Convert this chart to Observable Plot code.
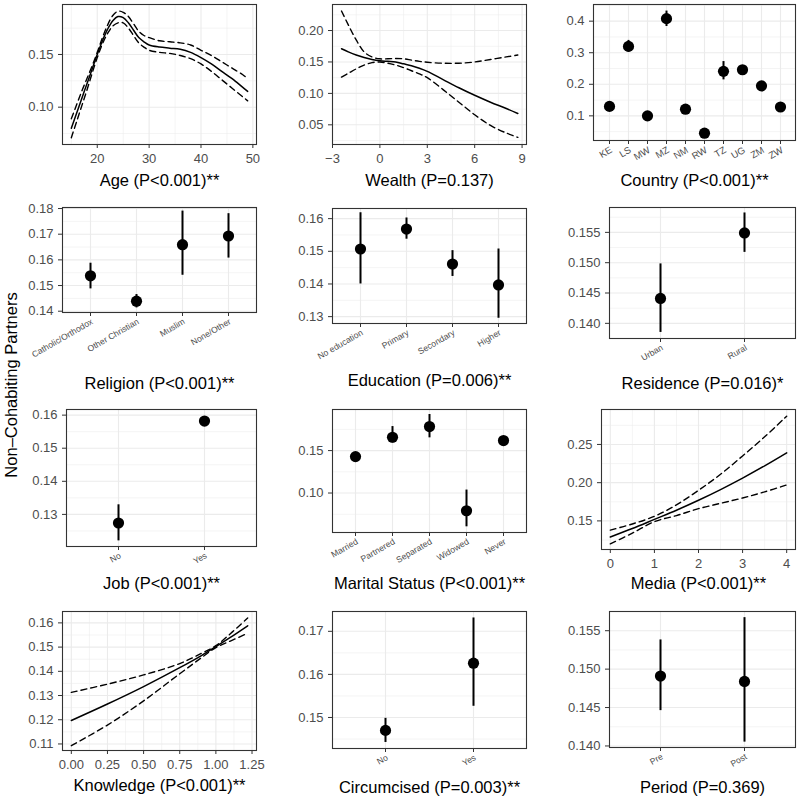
<!DOCTYPE html>
<html>
<head>
<meta charset="utf-8">
<script src="https://cdn.jsdelivr.net/npm/d3@7"></script>
<script src="https://cdn.jsdelivr.net/npm/@observablehq/plot@0.6"></script>
<style>
html, body { margin: 0; padding: 0; background: #fff; }
#root { position: relative; width: 800px; height: 799px; overflow: hidden;
  font-family: "Liberation Sans", Arial, Helvetica, sans-serif; }
#root svg { position: absolute; overflow: visible; background: transparent;
  font-family: "Liberation Sans", Arial, Helvetica, sans-serif; }
#root g[aria-label="y-axis tick label"], #root g[aria-label="x-axis tick label"] { fill: #4d4d4d; }
#root g[aria-label="y-axis tick"], #root g[aria-label="x-axis tick"] { stroke: #333333; }
#ylab { position: absolute; left: 11px; top: 385px; transform: translate(-50%, -50%) rotate(-90deg);
  white-space: nowrap; font-size: 16.5px; color: #000; }
</style>
</head>
<body>
<div id="root"><div id="ylab">Non–Cohabiting Partners</div></div>
<script>
// ---------------- DATA ----------------
// Continuous panels: fitted value and confidence bounds
const ageX  = [15,16,17,18,19,20,21,22,23,24,25,26,27,28,29,30,32,34,36,38,40,42,44,46,48,49];
const ageFit = [0.080,0.094,0.108,0.122,0.136,0.150,0.163,0.174,0.182,0.186,0.185,0.180,0.173,0.166,0.162,0.159,0.157,0.156,0.155,0.152,0.147,0.141,0.134,0.127,0.119,0.115];
const ageHi  = [0.089,0.102,0.115,0.127,0.139,0.152,0.166,0.178,0.187,0.191,0.190,0.186,0.179,0.172,0.168,0.166,0.163,0.162,0.161,0.159,0.154,0.149,0.143,0.137,0.131,0.127];
const ageLo  = [0.071,0.086,0.101,0.116,0.132,0.147,0.160,0.170,0.177,0.180,0.180,0.175,0.168,0.161,0.157,0.154,0.152,0.151,0.149,0.146,0.141,0.134,0.126,0.118,0.110,0.106];

const wealthX   = [-2.43,-2,-1.5,-1,-0.5,0,0.5,1,1.5,2,2.5,3,4,5,6,7,8,8.73];
const wealthFit = [0.171,0.166,0.161,0.157,0.154,0.152,0.151,0.150,0.147,0.144,0.140,0.135,0.122,0.109,0.097,0.086,0.076,0.068];
const wealthHi  = [0.231,0.209,0.185,0.166,0.158,0.155,0.155,0.1555,0.155,0.153,0.151,0.1495,0.148,0.148,0.150,0.154,0.158,0.161];
const wealthLo  = [0.126,0.132,0.139,0.145,0.149,0.150,0.148,0.145,0.141,0.136,0.131,0.125,0.106,0.086,0.066,0.049,0.037,0.030];

const mediaX   = [0,0.5,1,1.5,2,2.5,3,3.5,4];
const mediaFit = [0.129,0.140,0.152,0.164,0.177,0.191,0.206,0.222,0.239];
const mediaHi  = [0.138,0.146,0.156,0.171,0.190,0.211,0.235,0.260,0.287];
const mediaLo  = [0.120,0.134,0.149,0.157,0.166,0.173,0.180,0.188,0.197];

const knowX   = [0,0.25,0.5,0.75,0.9,1.0,1.1,1.22];
const knowFit = [0.1197,0.1265,0.1337,0.1415,0.1465,0.1502,0.1540,0.1588];
const knowHi  = [0.1313,0.1347,0.1385,0.1432,0.1474,0.1506,0.1555,0.1620];
const knowLo  = [0.1093,0.1178,0.1278,0.1390,0.1456,0.1498,0.1525,0.1557];

// Categorical panels: estimate and confidence bounds
const countryCats = ["KE","LS","MW","MZ","NM","RW","TZ","UG","ZM","ZW"];
const countryEst  = [0.130,0.320,0.100,0.408,0.121,0.045,0.241,0.246,0.195,0.128];
const countryLo   = [0.124,0.302,0.095,0.383,0.115,0.041,0.214,0.236,0.187,0.122];
const countryHi   = [0.136,0.339,0.105,0.432,0.127,0.049,0.272,0.256,0.203,0.134];

const religionCats = ["Catholic/Orthodox","Other Christian","Muslim","None/Other"];
const religionEst  = [0.1538,0.1439,0.1659,0.1693];
const religionLo   = [0.1487,0.1413,0.1540,0.1607];
const religionHi   = [0.1587,0.1465,0.1790,0.1780];

const educationCats = ["No education","Primary","Secondary","Higher"];
const educationEst  = [0.1507,0.1568,0.1461,0.1397];
const educationLo   = [0.1400,0.1537,0.1423,0.1295];
const educationHi   = [0.1618,0.1602,0.1502,0.1507];

const residenceCats = ["Urban","Rural"];
const residenceEst  = [0.1441,0.1549];
const residenceLo   = [0.1385,0.1517];
const residenceHi   = [0.1498,0.1582];

const jobCats = ["No","Yes"];
const jobEst  = [0.1274,0.1582];
const jobLo   = [0.1220,0.1575];
const jobHi   = [0.1329,0.1590];

const maritalCats = ["Married","Partnered","Separated","Widowed","Never"];
const maritalEst  = [0.1429,0.1657,0.1783,0.0791,0.1618];
const maritalLo   = [0.1395,0.1590,0.1650,0.0602,0.1585];
const maritalHi   = [0.1460,0.1783,0.1925,0.1035,0.1650];

const circCats = ["No","Yes"];
const circEst  = [0.1470,0.1626];
const circLo   = [0.1442,0.1526];
const circHi   = [0.1498,0.1731];

const periodCats = ["Pre","Post"];
const periodEst  = [0.1491,0.1484];
const periodLo   = [0.1446,0.1405];
const periodHi   = [0.1538,0.1567];

// Titles
const titles = {
  age: "Age (P<0.001)**", wealth: "Wealth (P=0.137)", country: "Country (P<0.001)**",
  religion: "Religion (P<0.001)**", education: "Education (P=0.006)**", residence: "Residence (P=0.016)*",
  job: "Job (P<0.001)**", marital: "Marital Status (P<0.001)**", media: "Media (P<0.001)**",
  knowledge: "Knowledge (P<0.001)**", circ: "Circumcised (P=0.003)**", period: "Period (P=0.369)"
};

// Tick values
const ageXTicks = [20,30,40,50], ageXMinor = [15,25,35,45];
const ageYTicks = [0.10,0.15], ageYMinor = [0.075,0.125,0.175];
const wealthXTicks = [-3,0,3,6,9], wealthXMinor = [-1.5,1.5,4.5,7.5];
const wealthYTicks = [0.05,0.10,0.15,0.20], wealthYMinor = [0.025,0.075,0.125,0.175,0.225];
const countryYTicks = [0.1,0.2,0.3,0.4], countryYMinor = [0.05,0.15,0.25,0.35,0.45];
const religionYTicks = [0.14,0.15,0.16,0.17,0.18], religionYMinor = [0.145,0.155,0.165,0.175];
const educationYTicks = [0.13,0.14,0.15,0.16], educationYMinor = [0.135,0.145,0.155];
const residenceYTicks = [0.140,0.145,0.150,0.155], residenceYMinor = [0.1425,0.1475,0.1525,0.1575];
const jobYTicks = [0.13,0.14,0.15,0.16], jobYMinor = [0.125,0.135,0.145,0.155];
const maritalYTicks = [0.10,0.15], maritalYMinor = [0.075,0.125,0.175];
const mediaXTicks = [0,1,2,3,4], mediaXMinor = [0.5,1.5,2.5,3.5];
const mediaYTicks = [0.15,0.20,0.25], mediaYMinor = [0.125,0.175,0.225,0.275];
const knowXTicks = [0,0.25,0.5,0.75,1.0,1.25], knowXMinor = [0.125,0.375,0.625,0.875,1.125];
const knowYTicks = [0.11,0.12,0.13,0.14,0.15,0.16], knowYMinor = [0.115,0.125,0.135,0.145,0.155];
const circYTicks = [0.15,0.16,0.17], circYMinor = [0.145,0.155,0.165];
const periodYTicks = [0.140,0.145,0.150,0.155], periodYMinor = [0.1425,0.1475,0.1525];

// ---------------- LAYOUT (frame boxes, page px: left, right, top, bottom) ----------------
const layout = {
  age:       {frame:[62,256,4,144],   titleDy:36, xDomain:[13.3,50.7],   yDomain:[0.0646,0.1974]},
  wealth:    {frame:[332,526,4,144],  titleDy:36, xDomain:[-3.0,9.28],   yDomain:[0.0187,0.2414]},
  country:   {frame:[593,795,4,140],  titleDy:40, yDomain:[0.0219,0.4528]},
  religion:  {frame:[62,256,207,312], titleDy:71, yDomain:[0.1395,0.1804]},
  education: {frame:[332,526,208,323],titleDy:57, yDomain:[0.1279,0.1631]},
  residence: {frame:[609,795,207,338],titleDy:45, yDomain:[0.1375,0.1591]},
  job:       {frame:[66,256,409,546], titleDy:37, yDomain:[0.1203,0.1617]},
  marital:   {frame:[332,526,409,532],titleDy:51, yDomain:[0.0535,0.1984]},
  media:     {frame:[601,795,409,549],titleDy:34, xDomain:[-0.2,4.2],    yDomain:[0.1126,0.2957]},
  knowledge: {frame:[62,256,611,750], titleDy:35, xDomain:[-0.061,1.281],yDomain:[0.1073,0.1647]},
  circ:      {frame:[332,526,611,748],titleDy:39, yDomain:[0.1428,0.1746]},
  period:    {frame:[609,795,611,747],titleDy:40, yDomain:[0.1398,0.1575]}
};

// ---------------- DRAWING ----------------
const GRID = "#ebebeb";
const root = document.getElementById("root");
const f2 = d3.format(".2f"), f1 = d3.format(".1f"), f3 = d3.format(".3f");
const minus = d => (d < 0 ? "\u2212" + Math.abs(d) : String(d));

function curveRows(xs, fit, lo, hi) {
  return xs.map((x, i) => ({x, fit: fit[i], lo: lo[i], hi: hi[i]}));
}
function catRows(cats, est, lo, hi) {
  return cats.map((c, i) => ({c, est: est[i], lo: lo[i], hi: hi[i]}));
}
function curveMarks(rows) {
  const dash = {x: "x", stroke: "black", strokeWidth: 1.4, strokeDasharray: "6,4", curve: "catmull-rom"};
  return [
    Plot.line(rows, {...dash, y: "hi"}),
    Plot.line(rows, {...dash, y: "lo"}),
    Plot.line(rows, {x: "x", y: "fit", stroke: "black", strokeWidth: 1.5, curve: "catmull-rom"})
  ];
}
function catMarks(rows) {
  return [
    Plot.ruleX(rows, {x: "c", y1: "lo", y2: "hi", stroke: "black", strokeWidth: 2}),
    Plot.dot(rows, {x: "c", y: "est", r: 5.6, fill: "black", stroke: "none"})
  ];
}

function panel(key, cfg) {
  const L = layout[key];
  const [fl, fr, ft, fb] = L.frame;
  const mL = 64, mR = 8, mT = 6, mB = 92;
  const width = (fr - fl) + mL + mR;
  const height = (fb - ft) + mT + mB;
  const [y0, y1] = L.yDomain;
  const inY = v => v >= y0 && v <= y1;
  const marks = [];
  marks.push(Plot.ruleY(cfg.yMinor.filter(inY), {stroke: GRID, strokeWidth: 0.55}));
  marks.push(Plot.ruleY(cfg.yTicks.filter(inY), {stroke: GRID, strokeWidth: 1.1}));
  if (cfg.categories) {
    marks.push(Plot.ruleX(cfg.categories, {stroke: GRID, strokeWidth: 1.1}));
  } else {
    const [x0, x1] = L.xDomain;
    const inX = v => v >= x0 && v <= x1;
    marks.push(Plot.ruleX(cfg.xMinor.filter(inX), {stroke: GRID, strokeWidth: 0.55}));
    marks.push(Plot.ruleX(cfg.xTicks.filter(inX), {stroke: GRID, strokeWidth: 1.1}));
  }
  marks.push(...cfg.marks);
  marks.push(Plot.frame({stroke: "#333333", strokeWidth: 1.1}));
  marks.push(Plot.axisY({ticks: cfg.yTicks.filter(inY), tickFormat: cfg.yFmt, tickSize: 4, tickPadding: 5, fontSize: 13, label: null}));
  if (cfg.categories) {
    marks.push(Plot.axisX({ticks: cfg.categories, tickFormat: () => "", tickSize: 4, label: null}));
    marks.push(Plot.text(cfg.categories, {x: d => d, frameAnchor: "bottom", dy: 5.5, dx: 0, rotate: -30,
      textAnchor: "end", lineAnchor: "top", fontSize: cfg.labSize || 8.6, fill: "#4d4d4d"}));
  } else {
    marks.push(Plot.axisX({ticks: cfg.xTicks, tickFormat: cfg.xFmt, tickSize: 4, tickPadding: 5, fontSize: 13, label: null}));
  }
  marks.push(Plot.text([titles[key]], {frameAnchor: "bottom", dy: L.titleDy, fontSize: 16.5, fill: "black", lineAnchor: "middle"}));

  const svg = Plot.plot({
    width, height, marginLeft: mL, marginRight: mR, marginTop: mT, marginBottom: mB,
    style: {overflow: "visible", background: "transparent"},
    x: cfg.categories ? {type: "point", domain: cfg.categories, padding: 0.6, label: null}
                      : {type: "linear", domain: L.xDomain, label: null},
    y: {type: "linear", domain: L.yDomain, label: null},
    marks
  });
  svg.style.left = (fl - mL) + "px";
  svg.style.top = (ft - mT) + "px";
  root.appendChild(svg);
}

panel("age", {marks: curveMarks(curveRows(ageX, ageFit, ageLo, ageHi)),
  xTicks: ageXTicks, xMinor: ageXMinor, xFmt: d => String(d), yTicks: ageYTicks, yMinor: ageYMinor, yFmt: f2});
panel("wealth", {marks: curveMarks(curveRows(wealthX, wealthFit, wealthLo, wealthHi)),
  xTicks: wealthXTicks, xMinor: wealthXMinor, xFmt: minus, yTicks: wealthYTicks, yMinor: wealthYMinor, yFmt: f2});
panel("country", {marks: catMarks(catRows(countryCats, countryEst, countryLo, countryHi)),
  categories: countryCats, labSize: 9.6, yTicks: countryYTicks, yMinor: countryYMinor, yFmt: f1});
panel("religion", {marks: catMarks(catRows(religionCats, religionEst, religionLo, religionHi)),
  categories: religionCats, yTicks: religionYTicks, yMinor: religionYMinor, yFmt: f2});
panel("education", {marks: catMarks(catRows(educationCats, educationEst, educationLo, educationHi)),
  categories: educationCats, yTicks: educationYTicks, yMinor: educationYMinor, yFmt: f2});
panel("residence", {marks: catMarks(catRows(residenceCats, residenceEst, residenceLo, residenceHi)),
  categories: residenceCats, yTicks: residenceYTicks, yMinor: residenceYMinor, yFmt: f3});
panel("job", {marks: catMarks(catRows(jobCats, jobEst, jobLo, jobHi)),
  categories: jobCats, yTicks: jobYTicks, yMinor: jobYMinor, yFmt: f2});
panel("marital", {marks: catMarks(catRows(maritalCats, maritalEst, maritalLo, maritalHi)),
  categories: maritalCats, yTicks: maritalYTicks, yMinor: maritalYMinor, yFmt: f2});
panel("media", {marks: curveMarks(curveRows(mediaX, mediaFit, mediaLo, mediaHi)),
  xTicks: mediaXTicks, xMinor: mediaXMinor, xFmt: d => String(d), yTicks: mediaYTicks, yMinor: mediaYMinor, yFmt: f2});
panel("knowledge", {marks: curveMarks(curveRows(knowX, knowFit, knowLo, knowHi)),
  xTicks: knowXTicks, xMinor: knowXMinor, xFmt: f2, yTicks: knowYTicks, yMinor: knowYMinor, yFmt: f2});
panel("circ", {marks: catMarks(catRows(circCats, circEst, circLo, circHi)),
  categories: circCats, yTicks: circYTicks, yMinor: circYMinor, yFmt: f2});
panel("period", {marks: catMarks(catRows(periodCats, periodEst, periodLo, periodHi)),
  categories: periodCats, yTicks: periodYTicks, yMinor: periodYMinor, yFmt: f3});
</script>
</body>
</html>
